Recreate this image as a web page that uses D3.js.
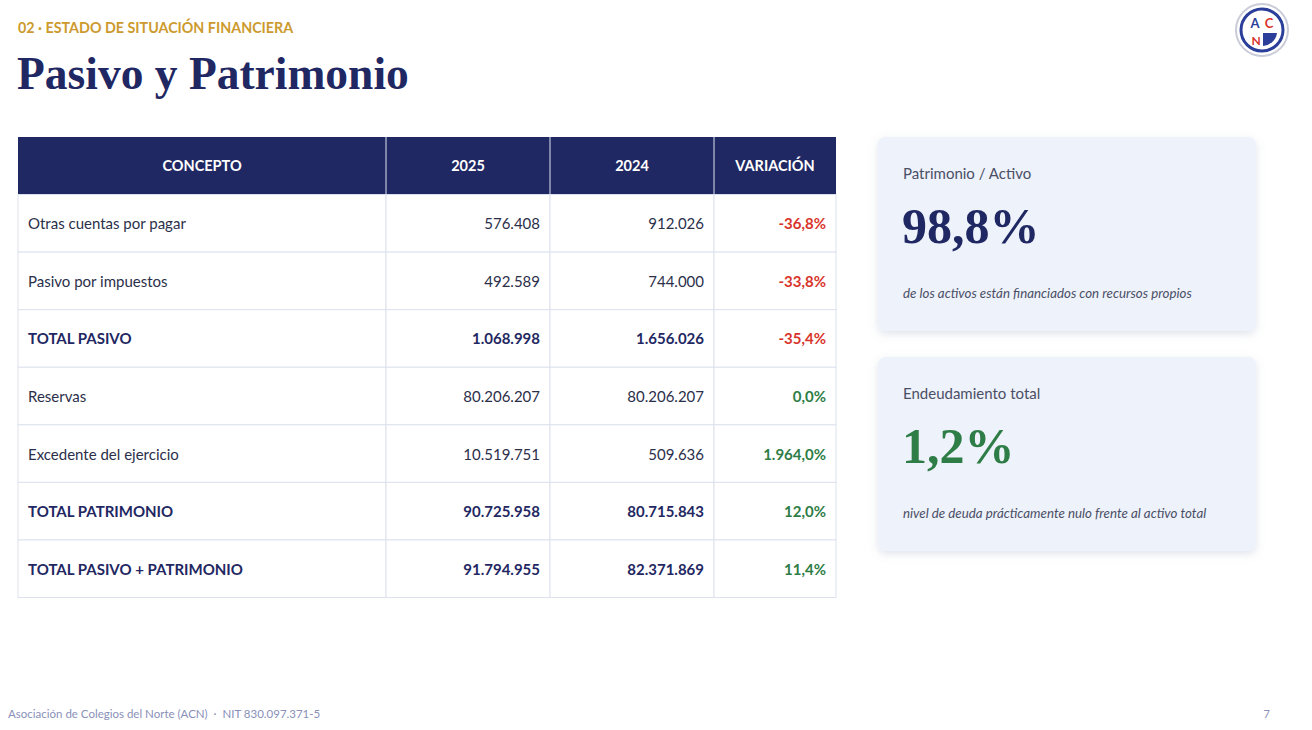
<!DOCTYPE html>
<html><head><meta charset="utf-8">
<script src="https://cdn.jsdelivr.net/npm/d3@7"></script>
<style>body{margin:0;background:#fff}svg{display:block;font-family:Lato,"Open Sans",sans-serif}text{white-space:pre}</style>
</head><body><svg id="c" width="1312" height="730"></svg>
<script>
// table data
const headers = ['CONCEPTO', '2025', '2024', 'VARIACIÓN'];
const concepts = ['Otras cuentas por pagar', 'Pasivo por impuestos', 'TOTAL PASIVO', 'Reservas', 'Excedente del ejercicio', 'TOTAL PATRIMONIO', 'TOTAL PASIVO + PATRIMONIO'];
const values2025 = ['576.408', '492.589', '1.068.998', '80.206.207', '10.519.751', '90.725.958', '91.794.955'];
const values2024 = ['912.026', '744.000', '1.656.026', '80.206.207', '509.636', '80.715.843', '82.371.869'];
const variation = [-36.8, -33.8, -35.4, 0.0, 1964.0, 12.0, 11.4];
const isTotal = [false, false, true, false, false, true, true];

const kpiLabels = ['Patrimonio / Activo', 'Endeudamiento total'];
const kpiValues = ['98,8%', '1,2%'];
const kpiNotes = ['de los activos están financiados con recursos propios', 'nivel de deuda prácticamente nulo frente al activo total'];

const navy = '#1f2862', gold = '#cc9a2e', red = '#d9342b', green = '#2e7d46';
const svg = d3.select('#c');

svg.append('text').attr('x', 18).attr('y', 33).attr('fill', gold)
  .attr('font-size', 14.3).attr('font-weight', 700).text('02 · ESTADO DE SITUACIÓN FINANCIERA');
svg.append('text').attr('x', 17).attr('y', 89).attr('fill', navy)
  .attr('font-family', '"Liberation Serif","DejaVu Serif",serif')
  .attr('font-size', 45.5).attr('font-weight', 700).text('Pasivo y Patrimonio');

// logo
const lg = svg.append('g').attr('transform', 'translate(1262,30)');
lg.append('circle').attr('r', 26).attr('fill', '#fff').attr('stroke', '#c9ccd8').attr('stroke-width', 2);
lg.append('circle').attr('r', 21).attr('fill', 'none').attr('stroke', '#2a3e9a').attr('stroke-width', 3);
lg.append('path').attr('d', 'M1,3 L15,3 A15,15 0 0 1 1,16Z').attr('fill', '#2a3e9a');
lg.append('text').attr('x', -7).attr('y', -2).attr('text-anchor', 'middle').attr('font-size', 13).attr('font-weight', 700).attr('fill', '#2a3e9a').text('A');
lg.append('text').attr('x', 7).attr('y', -2).attr('text-anchor', 'middle').attr('font-size', 13).attr('font-weight', 700).attr('fill', '#d9342b').text('C');
lg.append('text').attr('x', -6).attr('y', 15).attr('text-anchor', 'middle').attr('font-size', 12).attr('font-weight', 700).attr('fill', '#d9342b').text('N');

// table
const colEdges = [18, 386, 550, 714, 836];
const y = d3.scaleBand().domain(d3.range(concepts.length + 1)).range([137, 597.5]);
const t = svg.append('g');
const head = t.append('g');
head.append('rect').attr('x', colEdges[0]).attr('y', y(0)).attr('width', colEdges[4] - colEdges[0]).attr('height', y.bandwidth()).attr('fill', navy);
head.selectAll('line').data(colEdges.slice(1, 4)).join('line')
  .attr('x1', d => d).attr('x2', d => d).attr('y1', y(0)).attr('y2', y(0) + y.bandwidth()).attr('stroke', '#dfe3ee');
head.selectAll('text').data(headers).join('text')
  .attr('x', (d, i) => (colEdges[i] + colEdges[i + 1]) / 2).attr('y', y(0) + y.bandwidth() / 2 + 5)
  .attr('text-anchor', 'middle').attr('fill', '#fff').attr('font-size', 14.5).attr('font-weight', 700).text(d => d);

const rows = t.selectAll('g.row').data(concepts).join('g').attr('class', 'row')
  .attr('transform', (d, i) => `translate(0,${y(i + 1)})`);
rows.selectAll('rect').data(colEdges.slice(0, 4)).join('rect')
  .attr('x', d => d).attr('y', 0).attr('width', (d, i) => colEdges[i + 1] - d).attr('height', y.bandwidth())
  .attr('fill', '#fff').attr('stroke', '#dde2ee');
const ty = y.bandwidth() / 2 + 6;
const cell = (x, anchor, get) => rows.append('text').attr('x', x).attr('y', ty).attr('text-anchor', anchor).attr('font-size', 15)
  .attr('font-weight', (d, i) => isTotal[i] ? 700 : 400).attr('fill', (d, i) => isTotal[i] ? navy : '#2b2f4a').text(get);
cell(28, 'start', d => d);
cell(540, 'end', (d, i) => values2025[i]);
cell(704, 'end', (d, i) => values2024[i]);
const fmt = v => d3.format(',.1f')(v).replace(/,/g, '#').replace('.', ',').replace(/#/g, '.').replace('−', '-') + '%';
rows.append('text').attr('x', 826).attr('y', ty).attr('text-anchor', 'end').attr('font-size', 15).attr('font-weight', 700)
  .attr('fill', (d, i) => variation[i] < 0 ? red : green).text((d, i) => fmt(variation[i]));

// KPI cards
const defs = svg.append('defs');
const f = defs.append('filter').attr('id', 'sh').attr('x', -0.1).attr('y', -0.1).attr('width', 1.2).attr('height', 1.3);
f.append('feDropShadow').attr('dx', 0).attr('dy', 3).attr('stdDeviation', 4).attr('flood-color', '#8090b0').attr('flood-opacity', 0.25);
const cards = svg.selectAll('g.card').data(kpiLabels).join('g').attr('class', 'card')
  .attr('transform', (d, i) => `translate(878,${137 + i * 220})`);
cards.append('rect').attr('width', 378).attr('height', 194).attr('rx', 8).attr('fill', '#eef2fb').attr('filter', 'url(#sh)');
cards.append('text').attr('x', 25).attr('y', 42).attr('font-size', 15).attr('fill', '#4a4f66').text(d => d);
cards.append('text').attr('x', 24).attr('y', 106).attr('font-size', 50).attr('font-weight', 700)
  .attr('font-family', '"Liberation Serif","DejaVu Serif",serif')
  .attr('fill', (d, i) => i ? green : navy).text((d, i) => kpiValues[i]);
cards.append('text').attr('x', 25).attr('y', 161).attr('font-size', 13.3).attr('font-style', 'italic').attr('fill', '#4a4f66').text((d, i) => kpiNotes[i]);

svg.append('text').attr('x', 8).attr('y', 718).attr('font-size', 11.5).attr('fill', '#8a90b8').text('Asociación de Colegios del Norte (ACN)  ·  NIT 830.097.371-5');
svg.append('text').attr('x', 1270).attr('y', 718).attr('text-anchor', 'end').attr('font-size', 11).attr('fill', '#8a90b8').text('7');
</script></body></html>
